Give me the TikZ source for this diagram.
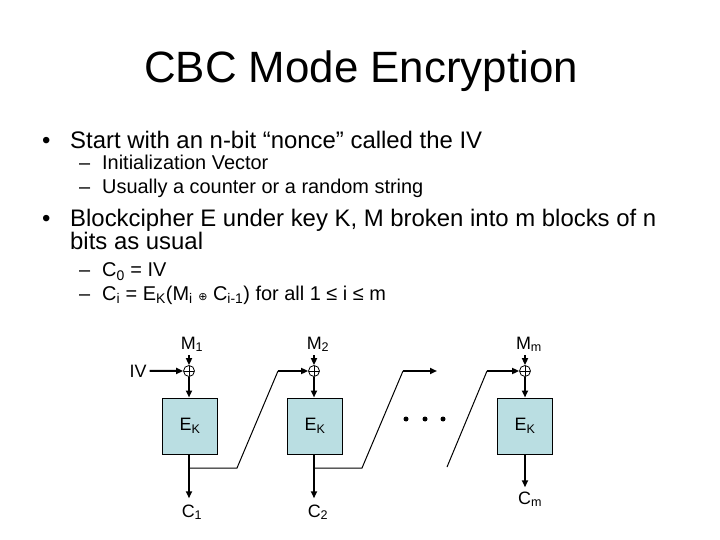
\documentclass[tikz,border=0pt]{standalone}
\usepackage{fontspec}
\setmainfont{Liberation Sans}
\newfontfamily\symfont{DejaVu Sans}
\usetikzlibrary{arrows.meta,positioning}
\definecolor{boxteal}{RGB}{186,222,226}

\begin{document}
\begin{tikzpicture}[
    x=1bp, y=-1bp,
    ttl/.style={
        font=\fontsize{44}{50}\selectfont,
        anchor=base,
        inner sep=0
    },
    bul/.style={
        font=\fontsize{24}{28}\selectfont,
        anchor=base west,
        inner sep=0
    },
    subitem/.style={
        font=\fontsize{20}{24}\selectfont,
        anchor=base west,
        inner sep=0
    },
    lbl/.style={
        font=\fontsize{18}{20}\selectfont,
        anchor=base,
        inner sep=3bp
    },
    blk/.style={
        rectangle,
        draw=black,
        line width=1bp,
        fill=boxteal,
        minimum width=55bp,
        minimum height=56bp,
        font=\fontsize{18}{20}\selectfont
    },
    xorc/.style={
        circle,
        draw=black,
        line width=0.8bp,
        inner sep=0,
        minimum size=11bp,
        path picture={
            \draw[line width=0.8bp]
                (path picture bounding box.north) -- (path picture bounding box.south)
                (path picture bounding box.west) -- (path picture bounding box.east);
        }
    },
    arr/.style={
        line width=2bp,
        -{Triangle[length=7bp,width=6bp]}
    },
    fb/.style={
        line width=1bp
    }
]
\useasboundingbox (0,0) rectangle (720,540);

% Title
\node[ttl] (title) at (361,83) {CBC Mode Encryption};

% First bullet
\node[bul] (dot1) at (42,149) {•};
\node[bul] (b1) at (70,149) {Start with an n-bit “nonce” called the IV};
\node[subitem] (d11) at (79,170) {–};
\node[subitem] (s11) at (102,170) {Initialization Vector};
\node[subitem] (d12) at (79,194) {–};
\node[subitem] (s12) at (102,194) {Usually a counter or a random string};

% Second bullet
\node[bul] (dot2) at (42,227) {•};
\node[bul] (b2) at (70,227) {Blockcipher E under key K, M broken into m blocks of n};
\node[bul] (b2b) at (70,250) {bits as usual};
\node[subitem] (d21) at (79,277) {–};
\node[subitem] (s21) at (102,277) {C\textsubscript{0} = IV};
\node[subitem] (d22) at (79,300) {–};
\node[subitem] (s22) at (102,300) {C\textsubscript{i} = E\textsubscript{K}(M\textsubscript{i} {\symfont\fontsize{11}{11}\selectfont ⊕} C\textsubscript{i-1}) for all 1 ≤ i ≤ m};

% Message blocks and IV
\node[lbl] (m1) at (192,349) {M\textsubscript{1}};
\node[lbl] (m2) at (318,349) {M\textsubscript{2}};
\node[lbl] (mm) at (529,349) {M\textsubscript{m}};
\node[lbl] (iv) at (138,377) {IV};

% XOR points
\node[xorc] (x1) at (189,371) {};
\node[xorc] (x2) at (314,371) {};
\node[xorc] (xm) at (525,371) {};

% Blockcipher boxes
\node[blk] (e1) at (190,426) {E\textsubscript{K}};
\node[blk] (e2) at (315,426) {E\textsubscript{K}};
\node[blk] (em) at (525,426) {E\textsubscript{K}};

% Ciphertext blocks
\node[lbl] (c1) at (192,517) {C\textsubscript{1}};
\node[lbl] (c2) at (318,517) {C\textsubscript{2}};
\node[lbl] (cm) at (530,504) {C\textsubscript{m}};

% Inputs
\draw[arr] (m1.south -| x1.north) -- (x1.north);
\draw[arr] (m2.south -| x2.north) -- (x2.north);
\draw[arr] (mm.south -| xm.north) -- (xm.north);
\draw[arr] (iv.east) -- (x1.west);

% Into the boxes
\draw[arr] (x1.south) -- (x1.south |- e1.north);
\draw[arr] (x2.south) -- (x2.south |- e2.north);
\draw[arr] (xm.south) -- (xm.south |- em.north);

% Out of the boxes
\draw[arr, shorten >=3bp] (e1.south -| x1) -- (x1 |- c1.north);
\draw[arr, shorten >=3bp] (e2.south -| x2) -- (x2 |- c2.north);
\draw[arr, shorten >=1bp] (em.south -| xm) -- (xm |- cm.north);

% Chaining
\coordinate (t1) at (189,468);
\coordinate (k1) at (237,468);
\coordinate (u1) at (278,371);
\draw[fb] (t1) -- (k1) -- (u1);
\draw[arr] (u1) -- (x2.west);

\coordinate (t2) at (314,468);
\coordinate (k2) at (362,468);
\coordinate (u2) at (403,371);
\coordinate (g2) at (437,371);
\draw[fb] (t2) -- (k2) -- (u2);
\draw[arr] (u2) -- (g2);

\coordinate (k3) at (447,467);
\coordinate (u3) at (487,371);
\draw[fb] (k3) -- (u3);
\draw[arr] (u3) -- (xm.west);

% Ellipsis
\fill (406,419) circle (2.5bp);
\fill (425,419) circle (2.5bp);
\fill (443,419) circle (2.5bp);

\end{tikzpicture}
\end{document}
